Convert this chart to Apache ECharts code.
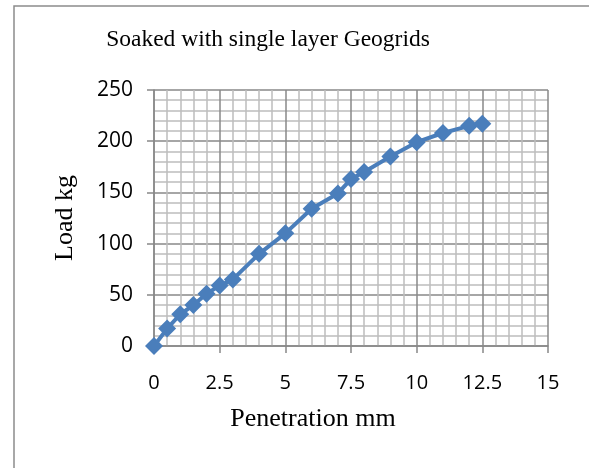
<!DOCTYPE html>
<html>
<head>
<meta charset="utf-8">
<script src="https://cdn.jsdelivr.net/npm/echarts@6/dist/echarts.min.js"></script>
<style>
  html, body { margin: 0; padding: 0; background: #fff; }
  #chart { width: 589px; height: 468px; }
</style>
</head>
<body>
<div id="chart"></div>
<script>
// penetration (mm) vs load (kg)
var penetration = [0, 0.5, 1, 1.5, 2, 2.5, 3, 4, 5, 6, 7, 7.5, 8, 9, 10, 11, 12, 12.5];
var load = [0, 17, 31, 40, 51, 59, 65, 90, 110, 134, 149, 163, 170, 185, 199, 208, 215, 217];

var chart = echarts.init(document.getElementById('chart'));

var points = penetration.map(function (p, i) { return [p, load[i]]; });

var majorColor = '#888888';
var minorColor = '#bdbdbd';

var option = {
  animation: false,
  backgroundColor: '#fff',
  title: {
    text: 'Soaked with single layer Geogrids',
    left: 263,
    top: 23,
    textAlign: 'center',
    textStyle: {
      fontFamily: 'Liberation Serif',
      fontSize: 23.5,
      fontWeight: 'normal',
      color: '#000'
    }
  },
  graphic: [
    {
      type: 'rect',
      shape: { x: 14, y: 6, width: 600, height: 500 },
      style: { fill: 'none', stroke: '#8c8c8c', lineWidth: 1.5 },
      silent: true
    }
  ],
  grid: {
    left: 154,
    top: 90,
    right: 41,
    bottom: 122
  },
  xAxis: {
    type: 'value',
    min: 0,
    max: 15,
    interval: 2.5,
    name: 'Penetration mm',
    nameLocation: 'middle',
    nameGap: 60,
    nameTextStyle: {
      fontFamily: 'Liberation Serif',
      fontSize: 26,
      color: '#000',
      padding: [0, 76, 0, 0]
    },
    axisLine: { show: true, lineStyle: { color: majorColor, width: 1.5 } },
    axisTick: { show: true, length: 7, lineStyle: { color: majorColor, width: 1.5 } },
    axisLabel: {
      margin: 27,
      fontFamily: 'Open Sans',
      fontSize: 20,
      color: '#000'
    },
    splitLine: { show: true, lineStyle: { color: majorColor, width: 1.5 } },
    minorTick: { show: false, splitNumber: 5 },
    minorSplitLine: { show: true, lineStyle: { color: minorColor, width: 1.5 } }
  },
  yAxis: {
    type: 'value',
    min: 0,
    max: 250,
    interval: 50,
    name: 'Load kg',
    nameLocation: 'middle',
    nameRotate: 90,
    nameGap: 76,
    nameTextStyle: {
      fontFamily: 'Liberation Serif',
      fontSize: 26,
      color: '#000'
    },
    axisLine: { show: true, lineStyle: { color: majorColor, width: 1.5 } },
    axisTick: { show: true, length: 7, lineStyle: { color: majorColor, width: 1.5 } },
    axisLabel: {
      margin: 21,
      fontFamily: 'Open Sans',
      fontSize: 21,
      color: '#000'
    },
    splitLine: { show: true, lineStyle: { color: majorColor, width: 1.5 } },
    minorTick: { show: false, splitNumber: 5 },
    minorSplitLine: { show: true, lineStyle: { color: minorColor, width: 1.5 } }
  },
  series: [
    {
      type: 'line',
      data: points,
      symbol: 'diamond',
      symbolSize: 18,
      lineStyle: { color: '#4A7EBB', width: 4 },
      itemStyle: { color: '#4A7EBB' }
    }
  ]
};

chart.setOption(option);
</script>
</body>
</html>
